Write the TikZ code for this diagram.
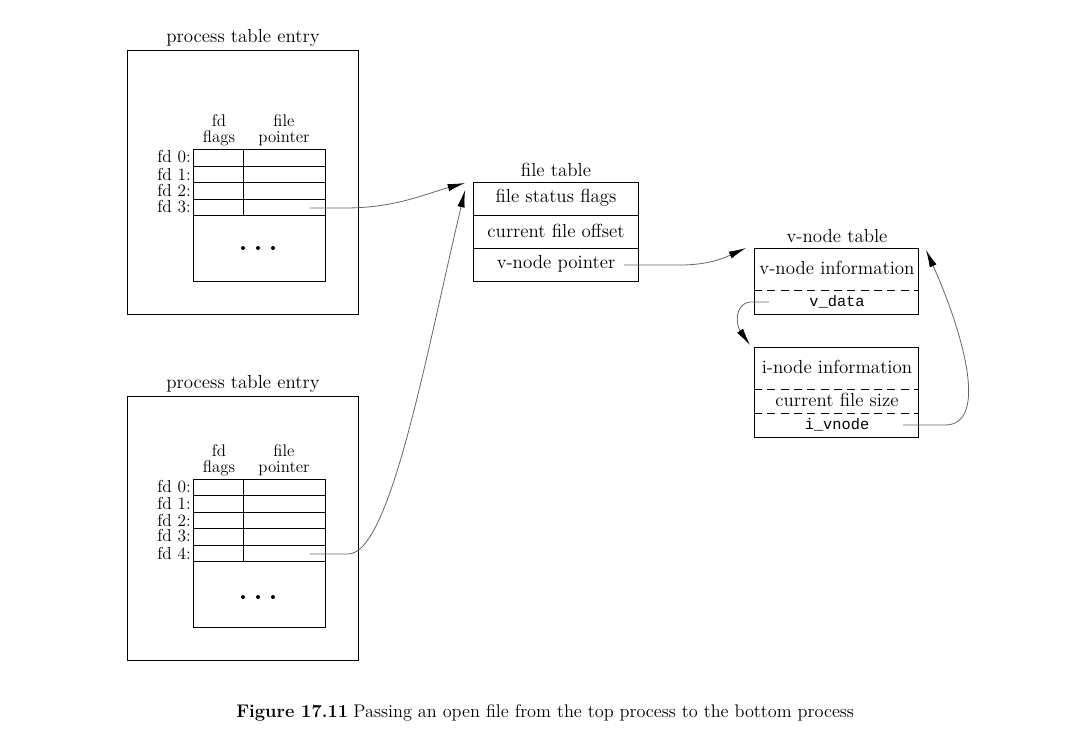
\documentclass[tikz,border=0pt]{standalone}
\usepackage{fontspec}
\setmonofont{Liberation Mono}
\usetikzlibrary{arrows.meta}
\begin{document}
\begin{tikzpicture}[x=0.75pt,y=-0.75pt,
  box/.style={draw=black,line width=0.65pt},
  txt/.style={inner sep=0pt,font=\fontsize{14.2}{15}\selectfont},
  hdr/.style={inner sep=0pt,anchor=base,font=\fontsize{12.6}{13}\selectfont},
  lbl/.style={inner sep=0pt,anchor=east,font=\fontsize{13}{13}\selectfont},
  mono/.style={inner sep=0pt,font=\fontsize{11.5}{13}\ttfamily},
  conn/.style={draw=black!60,line width=0.6pt,-{Latex[length=13pt,width=5.5pt,fill=black,color=black]}},
  dot/.style={circle,fill=black,inner sep=0pt,minimum size=3pt}]
\useasboundingbox (0,0) rectangle (1066,751);

% ---------- top process table entry ----------
\node[txt] (t1) at (243,38) {process table entry};
\draw[box] (127,50) rectangle (358,314);
\draw[box] (193,149) rectangle (325,281);
\foreach \y in {166,182,199,215} \draw[box] (193,\y) -- (325,\y);
\draw[box] (243,149) -- (243,215);
\node[hdr] (h1a) at (219,126.5) {fd};
\node[hdr] (h1a2) at (219,142) {flags};
\node[hdr] (h1b) at (284,126.5) {file};
\node[hdr] (h1b2) at (284,142) {pointer};
\node[lbl] (a0) at (191,157) {fd 0:};
\node[lbl] (a1) at (191,174) {fd 1:};
\node[lbl] (a2) at (191,190) {fd 2:};
\node[lbl] (a3) at (191,207) {fd 3:};
\node[dot] (d1a) at (243,248) {};
\node[dot] (d1b) at (258,248) {};
\node[dot] (d1c) at (273,248) {};
\coordinate (p3) at (310,208);

% ---------- bottom process table entry ----------
\node[txt] (t2) at (243,384) {process table entry};
\draw[box] (127,396) rectangle (358,660);
\draw[box] (193,479) rectangle (325,627);
\foreach \y in {495,512,528,545,561} \draw[box] (193,\y) -- (325,\y);
\draw[box] (243,479) -- (243,561);
\node[hdr] (h2a) at (219,456.5) {fd};
\node[hdr] (h2a2) at (219,472) {flags};
\node[hdr] (h2b) at (284,456.5) {file};
\node[hdr] (h2b2) at (284,472) {pointer};
\node[lbl] (b0) at (191,487) {fd 0:};
\node[lbl] (b1) at (191,503) {fd 1:};
\node[lbl] (b2) at (191,520) {fd 2:};
\node[lbl] (b3) at (191,536) {fd 3:};
\node[lbl] (b4) at (191,553) {fd 4:};
\node[dot] (d2a) at (243,597) {};
\node[dot] (d2b) at (258,597) {};
\node[dot] (d2c) at (273,597) {};
\coordinate (p4) at (310,554);

% ---------- file table ----------
\node[txt] (ft) at (556,170) {file table};
\draw[box] (473,182) rectangle (638,281);
\draw[box] (473,215) -- (638,215);
\draw[box] (473,248) -- (638,248);
\node[txt] (fsf) at (556,198) {file status flags};
\node[txt] (cfo) at (556,231) {current file offset};
\node[txt] (vnp) at (556,264) {v-node pointer};
\coordinate (ftin1) at (465,183);
\coordinate (ftin2) at (465,190);
\coordinate (vnpout) at (624,265);

% ---------- v-node table ----------
\node[txt] (vt) at (837,236) {v-node table};
\draw[box] (754,248) rectangle (918,314);
\draw[box,dash pattern=on 6pt off 4pt] (754,290) -- (918,290);
\node[txt] (vni) at (837,268) {v-node information};
\node[mono] (vd) at (837,302) {v\_data};
\coordinate (vtin) at (746,248);
\coordinate (vdout) at (769,302);
\coordinate (vtin2) at (926,250);

% ---------- i-node ----------
\draw[box] (754,347) rectangle (918,437);
\draw[box,dash pattern=on 6pt off 4pt] (754,389) -- (918,389);
\draw[box,dash pattern=on 6pt off 4pt] (754,413) -- (918,413);
\node[txt] (ini) at (837,367) {i-node information};
\node[txt] (cfs) at (837,400) {current file size};
\node[mono] (iv) at (837,425) {i\_vnode};
\coordinate (inin) at (750,345);
\coordinate (ivout) at (903,425);

% ---------- connectors ----------
\draw[conn] (p3) -- (345,208) .. controls (395,208) and (425,194) .. (ftin1);
\draw[conn] (p4) -- (348,554) .. controls (390,554) and (425,360) .. (ftin2);
\draw[conn] (vnpout) -- (680,265) .. controls (712,265) and (728,256) .. (vtin);
\draw[conn] (vdout) -- (750,302) .. controls (734,304) and (736,325) .. (inin);
\draw[conn] (ivout) -- (945,425) .. controls (990,425) and (962,330) .. (vtin2);

% ---------- caption ----------
\node[inner sep=0pt,anchor=west,font=\fontsize{13.7}{15}\selectfont] (cap) at (236,713)
  {\textbf{Figure 17.11}\hspace{4pt}Passing an open file from the top process to the bottom process};
\end{tikzpicture}
\end{document}
